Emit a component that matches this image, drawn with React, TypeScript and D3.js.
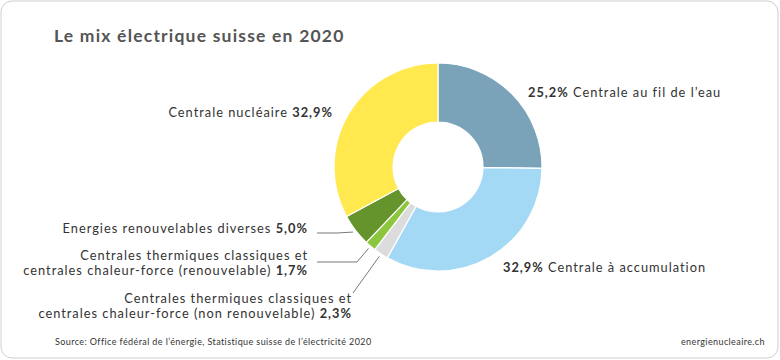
import React from "react";
import * as d3 from "d3";

const categories = [
  "Centrale au fil de l’eau",
  "Centrale à accumulation",
  "Centrales thermiques classiques et centrales chaleur-force (non renouvelable)",
  "Centrales thermiques classiques et centrales chaleur-force (renouvelable)",
  "Energies renouvelables diverses",
  "Centrale nucléaire",
];
const values = [25.2, 32.9, 2.3, 1.7, 5.0, 32.9];
const valueLabels = ["25,2%", "32,9%", "2,3%", "1,7%", "5,0%", "32,9%"];
const colors = ["#7aa3ba", "#a3d9f4", "#dcdcdc", "#8cc63f", "#64942b", "#ffe94f"];

const W = 780;
const H = 360;
const CX = 438;
const CY = 167;
const R_OUT = 104;
const R_IN = 45;
const FONT = "Lato, sans-serif";
const TXT = "#333";

export default function App() {
  const pie = d3
    .pie<number>()
    .sort(null)
    .value((d) => d);
  const arcs = pie(values);
  const arc = d3.arc<d3.PieArcDatum<number>>().innerRadius(R_IN).outerRadius(R_OUT);
  const pt = (a: d3.PieArcDatum<number>, r: number) => {
    const m = (a.startAngle + a.endAngle) / 2;
    return [CX + r * Math.sin(m), CY - r * Math.cos(m)];
  };

  const p2 = pt(arcs[2], 107);
  const p3 = pt(arcs[3], 107);
  const p4 = pt(arcs[4], 107);

  const bold = (s: string) => <tspan fontWeight="bold">{s}</tspan>;

  return (
    <svg
      width={W}
      height={H}
      style={{ position: "absolute", left: 0, top: 0 }}
      fontFamily={FONT}
    >
      <rect x={1} y={1} width={W - 3} height={H - 3} rx={11} fill="#fff" stroke="#cfcfcf" />
      <text x={54} y={42} fontSize={17.5} fontWeight="bold" fill="#555" letterSpacing={1.2}>
        Le mix électrique suisse en 2020
      </text>

      <g transform={`translate(${CX},${CY})`}>
        {arcs.map((a, i) => (
          <path key={i} d={arc(a) || ""} fill={colors[i]} stroke="#fff" strokeWidth={1.2} />
        ))}
      </g>

      <g fill="none" stroke="#555" strokeWidth={0.8}>
        <polyline points={`${p4[0]},${p4[1]} 337,233 317,233`} />
        <polyline points={`${p3[0]},${p3[1]} 357,262 317,262`} />
        <polyline points={`${p2[0]},${p2[1]} 353,293`} />
      </g>

      <g fontSize={12.8} fill={TXT} letterSpacing={1.0}>
        <text x={528} y={97}>
          {bold(valueLabels[0])} {categories[0]}
        </text>
        <text x={503} y={272}>
          {bold(valueLabels[1])} {categories[1]}
        </text>
        <text x={333} y={117} textAnchor="end">
          {categories[5]} {bold(valueLabels[5])}
        </text>
        <text x={308} y={233} textAnchor="end">
          {categories[4]} {bold(valueLabels[4])}
        </text>
        <text x={308} y={259.5} textAnchor="end">
          Centrales thermiques classiques et
        </text>
        <text x={308} y={275} textAnchor="end">
          centrales chaleur-force (renouvelable) {bold(valueLabels[3])}
        </text>
        <text x={352} y={302.5} textAnchor="end">
          Centrales thermiques classiques et
        </text>
        <text x={352} y={318} textAnchor="end">
          centrales chaleur-force (non renouvelable) {bold(valueLabels[2])}
        </text>
      </g>

      <g fontSize={9} fill={TXT} letterSpacing={0.4}>
        <text x={55} y={345}>
          Source: Office fédéral de l’énergie, Statistique suisse de l’électricité 2020
        </text>
        <text x={765} y={345} textAnchor="end">
          energienucleaire.ch
        </text>
      </g>
    </svg>
  );
}
